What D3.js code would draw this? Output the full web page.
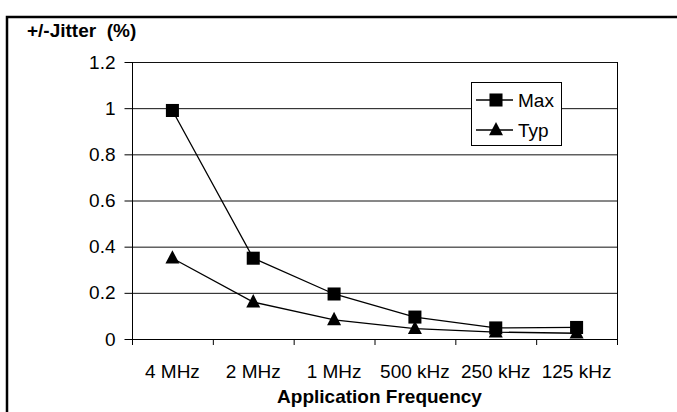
<!DOCTYPE html>
<meta charset="utf-8">
<style>
body { margin: 0; background: #fff; }
text { font-family: Arial, "Liberation Sans", sans-serif; }
.axis .domain { stroke: #000; }
.axis line { stroke: #000; }
.axis text { font-size: 19px; fill: #000; }
.grid line { stroke: #111; stroke-width: 1; }
</style>
<svg width="677" height="412"></svg>
<script src="https://d3js.org/d3.v7.min.js"></script>
<script>

var categories = ["4 MHz", "2 MHz", "1 MHz", "500 kHz", "250 kHz", "125 kHz"];
var maxValues = [0.99, 0.35, 0.195, 0.095, 0.048, 0.05];
var typValues = [0.35, 0.16, 0.083, 0.045, 0.03, 0.025];
var yTicks = [0, 0.2, 0.4, 0.6, 0.8, 1, 1.2];

var svg = d3.select("svg"),
    margin = {top: 62, right: 60, bottom: 73, left: 132},
    width = +svg.attr("width") - margin.left - margin.right,
    height = +svg.attr("height") - margin.top - margin.bottom;

// outer frame (runs off the right and bottom edge)
svg.append("rect")
    .attr("x", 7)
    .attr("y", 17)
    .attr("width", 700)
    .attr("height", 420)
    .attr("fill", "none")
    .attr("stroke", "#000")
    .attr("stroke-width", 2.5);

var g = svg.append("g")
    .attr("transform", "translate(" + margin.left + "," + margin.top + ")");

var x = d3.scaleBand().domain(categories).range([0, width]);
var y = d3.scaleLinear().domain([0, 1.2]).range([height, 0]);

g.append("g")
    .attr("class", "grid")
  .selectAll("line")
  .data(yTicks.slice(1))
  .enter().append("line")
    .attr("x1", 0)
    .attr("x2", width)
    .attr("y1", function(d) { return y(d) + 0.5; })
    .attr("y2", function(d) { return y(d) + 0.5; });

g.append("line")
    .attr("x1", width + 0.5)
    .attr("x2", width + 0.5)
    .attr("y1", 0)
    .attr("y2", height)
    .attr("stroke", "#000");

g.append("g")
    .attr("class", "axis")
    .attr("transform", "translate(0," + (height + 0.5) + ")")
    .call(d3.axisBottom(x).tickSize(0).tickPadding(25))
    .call(function(a) { a.select(".domain").attr("d", "M0,0H" + width); });

g.append("g")
    .attr("class", "axis")
    .attr("transform", "translate(0," + height + ")")
  .selectAll("line")
  .data(d3.range(categories.length + 1))
  .enter().append("line")
    .attr("x1", function(i) { return i * x.step() + 0.5; })
    .attr("x2", function(i) { return i * x.step() + 0.5; })
    .attr("y1", 0)
    .attr("y2", 6)
    .attr("stroke", "#000");

g.append("g")
    .attr("class", "axis")
    .attr("transform", "translate(0.5,0)")
    .call(d3.axisLeft(y).tickValues(yTicks).tickSize(8).tickPadding(9)
      .tickFormat(function(d) { return d3.format("")(+d.toFixed(1)); }))
    .call(function(a) { a.select(".domain").attr("d", "M0,0V" + height); });

var line = d3.line()
    .x(function(d, i) { return x(categories[i]) + x.bandwidth() / 2; })
    .y(function(d) { return y(d); });

g.append("path")
    .datum(maxValues)
    .attr("fill", "none")
    .attr("stroke", "#000")
    .attr("stroke-width", 1.3)
    .attr("d", line);

g.append("path")
    .datum(typValues)
    .attr("fill", "none")
    .attr("stroke", "#000")
    .attr("stroke-width", 1.3)
    .attr("d", line);

// filled triangle a bit taller than equilateral, like the original markers
var tri = {
  draw: function(context, size) {
    var w = Math.sqrt(size), h = w * 0.95;
    context.moveTo(0, -h * 0.6);
    context.lineTo(w / 2, h * 0.4);
    context.lineTo(-w / 2, h * 0.4);
    context.closePath();
  }
};

var square = d3.symbol().type(d3.symbolSquare).size(170),
    triangle = d3.symbol().type(tri).size(196);

g.selectAll(".typ")
  .data(typValues)
  .enter().append("path")
    .attr("class", "typ")
    .attr("d", triangle)
    .attr("transform", function(d, i) {
      return "translate(" + (x(categories[i]) + x.bandwidth() / 2) + "," + y(d) + ")";
    });

g.selectAll(".max")
  .data(maxValues)
  .enter().append("path")
    .attr("class", "max")
    .attr("d", square)
    .attr("transform", function(d, i) {
      return "translate(" + (x(categories[i]) + x.bandwidth() / 2) + "," + y(d) + ")";
    });

// legend
var legend = svg.append("g").attr("transform", "translate(471,82)");
legend.append("rect")
    .attr("x", 0.5).attr("y", 0.5)
    .attr("width", 90).attr("height", 63)
    .attr("fill", "#fff")
    .attr("stroke", "#000");

var legendItems = [{name: "Max", sym: square}, {name: "Typ", sym: triangle}];
var item = legend.selectAll(".item")
  .data(legendItems)
  .enter().append("g")
    .attr("transform", function(d, i) { return "translate(0," + (18 + i * 30) + ")"; });
item.append("line")
    .attr("x1", 5).attr("x2", 42)
    .attr("stroke", "#000").attr("stroke-width", 1.3);
item.append("path")
    .attr("d", function(d) { return d.sym(); })
    .attr("transform", "translate(25,0)");
item.append("text")
    .attr("x", 47)
    .attr("dy", "0.36em")
    .attr("font-size", 19)
    .text(function(d) { return d.name; });

svg.append("text")
    .attr("x", 27)
    .attr("y", 37)
    .attr("font-size", 19)
    .attr("font-weight", "bold")
    .style("white-space", "pre")
    .text("+/-Jitter  (%)");

svg.append("text")
    .attr("x", margin.left + width / 2 + 5)
    .attr("y", 403)
    .attr("text-anchor", "middle")
    .attr("font-size", 19)
    .attr("font-weight", "bold")
    .text("Application Frequency");

</script>
